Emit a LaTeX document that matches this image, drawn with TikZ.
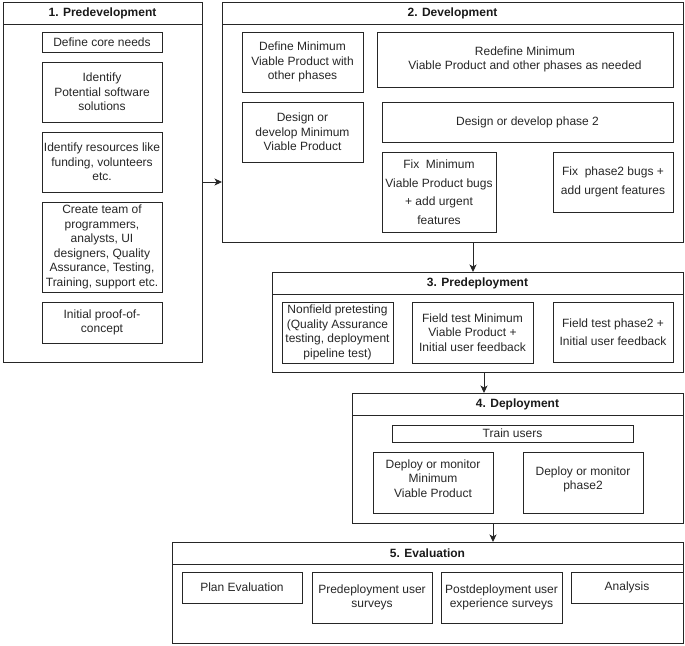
\documentclass[tikz,border=0pt]{standalone}
\usepackage{fontspec}
\setmainfont{Liberation Sans}
\usetikzlibrary{arrows.meta}
\tikzset{
  ln/.style={draw=black!85, line width=0.9pt},
  cont/.style={ln, rectangle, inner sep=0pt, outer sep=0pt},
  head/.style={ln, rectangle, inner sep=0pt, outer sep=0pt, anchor=north, text=black!90, font=\bfseries\fontsize{12}{14.5}\selectfont},
  bx/.style={ln, rectangle, inner sep=0pt, outer sep=0pt, align=center, text=black!85, font=\fontsize{12}{14.5}\selectfont},
  wide/.style={font=\fontsize{12}{18.5}\selectfont},
  arr/.style={draw=black!85, line width=0.9pt, -{Stealth[length=7.5pt,width=7pt,inset=2pt]}},
}
\newcommand\cont[6]{%
  \node[cont, minimum width={(#4-#2)*1pt}, minimum height={(#5-#3)*1pt}] (#1) at ({(#2+#4)/2},{(#3+#5)/2}) {};
  \node[head, minimum width={(#4-#2)*1pt}, minimum height=22pt] (#1h) at (#1.north) {#6};
}
\newcommand\bx[7][]{%
  \node[bx, minimum width={(#5-#3)*1pt}, minimum height={(#6-#4)*1pt}, #1] (#2) at ({(#3+#5)/2},{(#4+#6)/2}) {#7};
}
\begin{document}
\begin{tikzpicture}[x=1pt, y=-1pt]
\useasboundingbox (0,0) rectangle (685,645);

% 1. Predevelopment
\cont{C1}{3}{2}{202}{362}{1. Predevelopment}
\bx{a1}{42}{32}{162}{52}{Define core needs}
\bx{a2}{42}{62}{162}{122}{Identify\\Potential software\\solutions}
\bx{a3}{42}{132}{162}{192}{Identify resources like\\funding, volunteers\\etc.}
\bx{a4}{42}{202}{162}{292}{Create team of\\programmers,\\analysts, UI\\designers, Quality\\Assurance, Testing,\\Training, support etc.}
\bx{a5}{42}{302}{162}{343}{Initial proof-of-\\concept}

% 2. Development
\cont{C2}{222}{2}{683}{242}{2. Development}
\bx{b1}{242}{32}{363}{92}{Define Minimum\\Viable Product with\\other phases}
\bx{b2}{377}{32}{673}{87}{Redefine Minimum\\Viable Product and other phases as needed}
\bx{b3}{242}{102}{363}{162}{Design or\\develop Minimum\\Viable Product}
\bx{b4}{382}{102}{673}{142}{Design or develop phase 2}
\bx[wide]{b5}{382}{152}{496}{232}{Fix\ \ Minimum\\Viable Product bugs\\+ add urgent\\features}
\bx[wide]{b6}{553}{152}{673}{212}{Fix\ \ phase2 bugs +\\add urgent features}

% 3. Predeployment
\cont{C3}{272}{272}{683}{372}{3. Predeployment}
\bx{c1}{282}{302}{393}{363}{Nonfield pretesting\\(Quality Assurance\\testing, deployment\\pipeline test)}
\bx{c2}{412}{302}{533}{363}{Field test Minimum\\Viable Product +\\Initial user feedback}
\bx[wide]{c3}{553}{302}{673}{362}{Field test phase2 +\\Initial user feedback}

% 4. Deployment
\cont{C4}{352}{393}{683}{523}{4. Deployment}
\bx{d1}{392}{425}{633}{442}{Train users}
\bx{d2}{373}{452}{493}{513}{Deploy or monitor\\Minimum\\Viable Product\vphantom{g}\\[-6pt]\mbox{}}
\bx{d3}{523}{452}{643}{513}{Deploy or monitor\\phase2\\[-6pt]\mbox{}}

% 5. Evaluation
\cont{C5}{172}{542}{683}{643}{5. Evaluation}
\bx{e1}{182}{572}{302}{603}{Plan Evaluation}
\bx{e2}{312}{572}{432}{623}{Predeployment user\\surveys}
\bx{e3}{441}{572}{562}{623}{Postdeployment user\\experience surveys}
\bx{e4}{571}{572}{683}{603}{Analysis}

% connectors
\draw[arr] (C1.east) -- (C1.east -| C2.west);
\draw[arr] ([xshift=20.5pt]C2.south) -- ([xshift=20.5pt]C2.south |- C3h.north);
\draw[arr] ([xshift=6.5pt]C3.south) -- ([xshift=6.5pt]C3.south |- C4h.north);
\draw[arr] ([xshift=-24.5pt]C4.south) -- ([xshift=-24.5pt]C4.south |- C5h.north);
\end{tikzpicture}
\end{document}
